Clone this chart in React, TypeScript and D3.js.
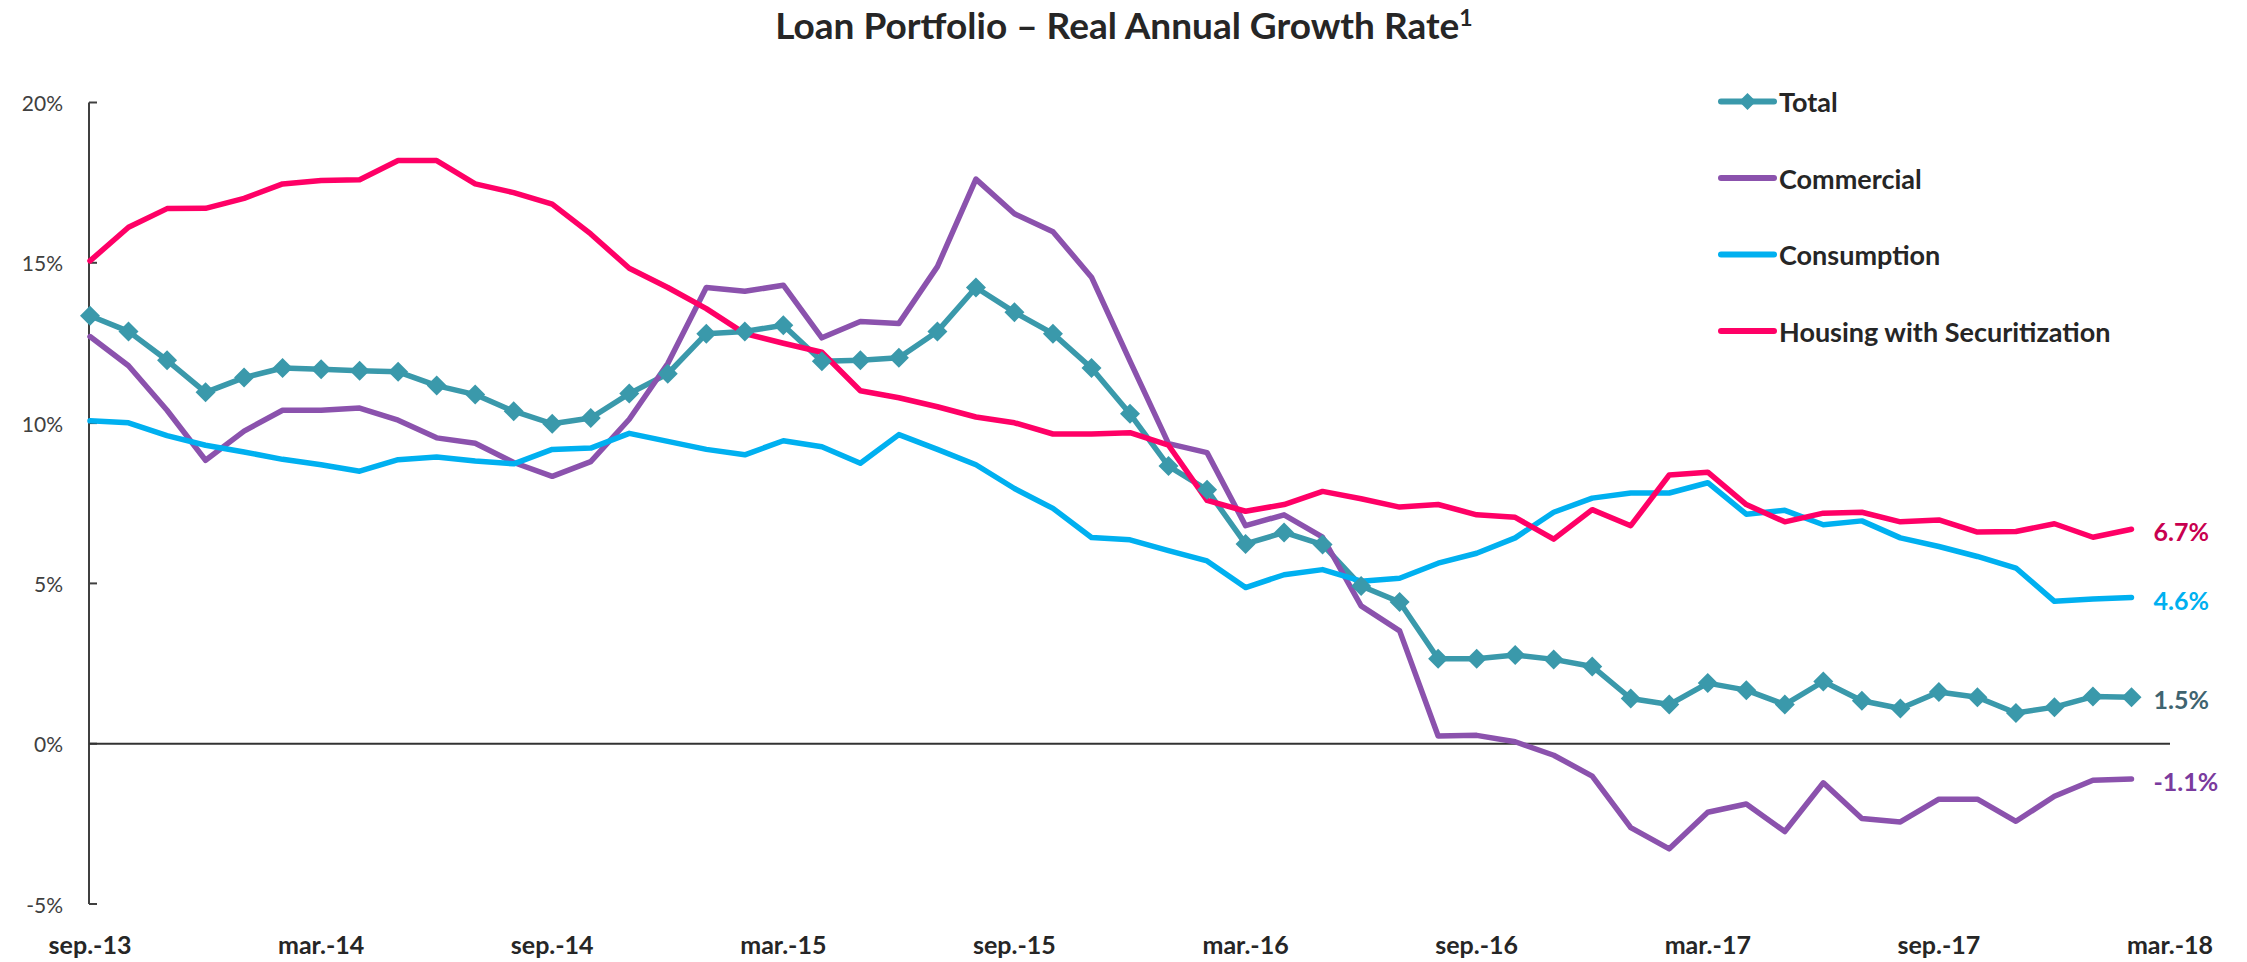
import React from "react";
import * as d3 from "d3";

const months: string[] = [
  "sep-13","oct-13","nov-13","dec-13","jan-14","feb-14","mar-14","apr-14","may-14","jun-14","jul-14","aug-14",
  "sep-14","oct-14","nov-14","dec-14","jan-15","feb-15","mar-15","apr-15","may-15","jun-15","jul-15","aug-15",
  "sep-15","oct-15","nov-15","dec-15","jan-16","feb-16","mar-16","apr-16","may-16","jun-16","jul-16","aug-16",
  "sep-16","oct-16","nov-16","dec-16","jan-17","feb-17","mar-17","apr-17","may-17","jun-17","jul-17","aug-17",
  "sep-17","oct-17","nov-17","dec-17","jan-18","feb-18",
];

const tickLabels: string[] = ["sep.-13","mar.-14","sep.-14","mar.-15","sep.-15","mar.-16","sep.-16","mar.-17","sep.-17","mar.-18"];
const yTicks: number[] = [-5, 0, 5, 10, 15, 20];

const total: number[] = [
  13.35,12.86,11.96,10.96,11.42,11.72,11.68,11.63,11.60,11.17,10.89,10.37,
  9.98,10.16,10.92,11.54,12.79,12.86,13.05,11.93,11.96,12.04,12.86,14.23,
  13.46,12.79,11.72,10.29,8.66,7.92,6.23,6.59,6.21,4.92,4.42,2.65,
  2.65,2.77,2.63,2.41,1.41,1.22,1.89,1.67,1.22,1.94,1.34,1.10,
  1.61,1.45,0.96,1.14,1.47,1.45,
];
const commercial: number[] = [
  12.7,11.79,10.4,8.84,9.75,10.4,10.4,10.47,10.09,9.54,9.37,8.77,
  8.34,8.8,10.12,11.86,14.23,14.11,14.3,12.66,13.17,13.11,14.88,17.61,
  16.53,15.97,14.55,11.93,9.36,9.08,6.8,7.14,6.44,4.3,3.52,0.24,
  0.26,0.06,-0.36,-1.01,-2.62,-3.28,-2.14,-1.88,-2.74,-1.22,-2.33,-2.44,
  -1.73,-1.73,-2.42,-1.64,-1.14,-1.1,
];
const consumption: number[] = [
  10.07,10.01,9.61,9.31,9.1,8.87,8.7,8.5,8.86,8.94,8.82,8.73,
  9.18,9.22,9.68,9.43,9.18,9.01,9.45,9.26,8.75,9.64,9.18,8.7,
  7.96,7.34,6.43,6.36,6.02,5.7,4.87,5.27,5.43,5.07,5.16,5.63,
  5.94,6.42,7.22,7.66,7.82,7.82,8.14,7.16,7.28,6.83,6.95,6.42,
  6.15,5.84,5.48,4.44,4.51,4.56,
];
const housing: number[] = [
  15.06,16.11,16.69,16.7,17.01,17.46,17.57,17.59,18.19,18.19,17.46,17.19,
  16.83,15.9,14.83,14.23,13.57,12.79,12.49,12.21,11.01,10.79,10.51,10.19,
  10.01,9.66,9.66,9.7,9.31,7.59,7.25,7.46,7.87,7.64,7.38,7.46,
  7.14,7.06,6.38,7.3,6.8,8.38,8.47,7.46,6.92,7.19,7.22,6.92,
  6.98,6.6,6.62,6.86,6.44,6.69,
];

const seriesNames: string[] = ["Total", "Commercial", "Consumption", "Housing with Securitization"];
const seriesColors: string[] = ["#3A99AB", "#8B52AD", "#00B0F0", "#FF0066"];
const endLabels: string[] = ["1.5%", "-1.1%", "4.6%", "6.7%"];
const endLabelColors: string[] = ["#3F6470", "#7A3B9E", "#00B0F0", "#C8004F"];

const W = 2247;
const H = 962;

export default function App() {
  const x = d3.scaleLinear().domain([0, 54]).range([90, 2170]);
  const y = d3.scaleLinear().domain([-5, 20]).range([904, 102.5]);
  const data = [total, commercial, consumption, housing];
  const line = d3
    .line<number>()
    .x((_, i) => x(i))
    .y((d) => y(d));
  const diamond = (cx: number, cy: number, r: number) =>
    `M${cx},${cy - r}L${cx + r},${cy}L${cx},${cy + r}L${cx - r},${cy}Z`;
  const lastIdx = months.length - 1;
  const legendY = [101.5, 178, 254.5, 331];
  const font = "Lato, 'Open Sans', sans-serif";

  return (
    <svg
      width={W}
      height={H}
      style={{ position: "absolute", left: 0, top: 0, background: "#fff" }}
      xmlns="http://www.w3.org/2000/svg"
    >
      <rect x={0} y={0} width={W} height={H} fill="#fff" />
      <text
        x={1124}
        y={39}
        textAnchor="middle"
        fontFamily={font}
        fontWeight={700}
        fontSize={37}
        fill="#262626"
      >
        Loan Portfolio – Real Annual Growth Rate
        <tspan fontSize={23} dy={-13}>1</tspan>
      </text>

      {/* y axis */}
      <line x1={89} x2={89} y1={y(20)} y2={y(-5)} stroke="#404040" strokeWidth={2} />
      {yTicks.map((t) => (
        <g key={t}>
          <line x1={89} x2={97} y1={y(t)} y2={y(t)} stroke="#404040" strokeWidth={2} />
          <text
            x={63}
            y={y(t)}
            textAnchor="end"
            dominantBaseline="central"
            fontFamily={font}
            fontSize={21}
            fill="#404040"
          >
            {t}%
          </text>
        </g>
      ))}
      {/* zero line */}
      <line x1={89} x2={x(54)} y1={y(0)} y2={y(0)} stroke="#333" strokeWidth={2} />

      {/* x labels */}
      {tickLabels.map((lab, k) => (
        <text
          key={lab}
          x={x(k * 6)}
          y={954}
          textAnchor="middle"
          fontFamily={font}
          fontWeight={700}
          fontSize={25}
          fill="#262626"
        >
          {lab}
        </text>
      ))}

      {/* series */}
      {data.map((s, k) => (
        <path
          key={seriesNames[k]}
          d={line(s) || ""}
          fill="none"
          stroke={seriesColors[k]}
          strokeWidth={5.5}
          strokeLinejoin="round"
          strokeLinecap="round"
        />
      ))}
      {total.map((v, i) => (
        <path key={i} d={diamond(x(i), y(v), 10)} fill={seriesColors[0]} />
      ))}

      {/* end labels */}
      {data.map((s, k) => (
        <text
          key={endLabels[k]}
          x={x(lastIdx) + 22}
          y={y(s[lastIdx]) + 2}
          dominantBaseline="central"
          fontFamily={font}
          fontWeight={700}
          fontSize={25}
          fill={endLabelColors[k]}
        >
          {endLabels[k]}
        </text>
      ))}

      {/* legend */}
      {seriesNames.map((n, k) => (
        <g key={n}>
          <line
            x1={1721}
            x2={1774}
            y1={legendY[k]}
            y2={legendY[k]}
            stroke={seriesColors[k]}
            strokeWidth={6}
            strokeLinecap="round"
          />
          {k === 0 && <path d={diamond(1747.5, legendY[k], 8.5)} fill={seriesColors[0]} />}
          <text
            x={1779}
            y={legendY[k]}
            dominantBaseline="central"
            fontFamily={font}
            fontWeight={700}
            fontSize={27}
            fill="#262626"
          >
            {n}
          </text>
        </g>
      ))}
    </svg>
  );
}
